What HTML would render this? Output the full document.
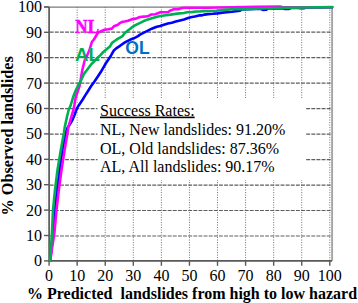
<!DOCTYPE html>
<html><head><meta charset="utf-8"><style>
html,body{margin:0;padding:0;background:#fff;}
svg{display:block;}
.t{font-family:"Liberation Serif",serif;font-size:16px;fill:#000;}
.b{font-family:"Liberation Serif",serif;font-size:16px;font-weight:bold;fill:#000;}
.lb{font-family:"Liberation Serif",serif;font-size:19px;font-weight:bold;}
.ls{font-family:"Liberation Sans",sans-serif;font-size:17.5px;font-weight:bold;}
</style></head><body>
<svg width="358" height="303" viewBox="0 0 358 303">
<rect width="358" height="303" fill="#fff"/>
<line x1="77.17" y1="7" x2="77.17" y2="260.9" stroke="#7c7c82" stroke-width="1" stroke-dasharray="1.1 1.4"/>
<line x1="105.24" y1="7" x2="105.24" y2="260.9" stroke="#7c7c82" stroke-width="1" stroke-dasharray="1.1 1.4"/>
<line x1="133.31" y1="7" x2="133.31" y2="260.9" stroke="#7c7c82" stroke-width="1" stroke-dasharray="1.1 1.4"/>
<line x1="161.38" y1="7" x2="161.38" y2="260.9" stroke="#7c7c82" stroke-width="1" stroke-dasharray="1.1 1.4"/>
<line x1="189.45" y1="7" x2="189.45" y2="260.9" stroke="#7c7c82" stroke-width="1" stroke-dasharray="1.1 1.4"/>
<line x1="217.52" y1="7" x2="217.52" y2="260.9" stroke="#7c7c82" stroke-width="1" stroke-dasharray="1.1 1.4"/>
<line x1="245.59" y1="7" x2="245.59" y2="260.9" stroke="#7c7c82" stroke-width="1" stroke-dasharray="1.1 1.4"/>
<line x1="273.66" y1="7" x2="273.66" y2="260.9" stroke="#7c7c82" stroke-width="1" stroke-dasharray="1.1 1.4"/>
<line x1="301.73" y1="7" x2="301.73" y2="260.9" stroke="#7c7c82" stroke-width="1" stroke-dasharray="1.1 1.4"/>
<line x1="329.80" y1="7" x2="329.80" y2="260.9" stroke="#7c7c82" stroke-width="1" stroke-dasharray="1.1 1.4"/>
<line x1="49.7" y1="236.01" x2="332" y2="236.01" stroke="#5e5e5e" stroke-width="1.2" stroke-dasharray="3.9 1.23"/>
<line x1="49.7" y1="210.52" x2="332" y2="210.52" stroke="#5e5e5e" stroke-width="1.2" stroke-dasharray="3.9 1.23"/>
<line x1="49.7" y1="185.03" x2="332" y2="185.03" stroke="#5e5e5e" stroke-width="1.2" stroke-dasharray="3.9 1.23"/>
<line x1="49.7" y1="159.54" x2="332" y2="159.54" stroke="#5e5e5e" stroke-width="1.2" stroke-dasharray="3.9 1.23"/>
<line x1="49.7" y1="134.05" x2="332" y2="134.05" stroke="#5e5e5e" stroke-width="1.2" stroke-dasharray="3.9 1.23"/>
<line x1="49.7" y1="108.56" x2="332" y2="108.56" stroke="#5e5e5e" stroke-width="1.2" stroke-dasharray="3.9 1.23"/>
<line x1="49.7" y1="83.07" x2="332" y2="83.07" stroke="#5e5e5e" stroke-width="1.2" stroke-dasharray="3.9 1.23"/>
<line x1="49.7" y1="57.58" x2="332" y2="57.58" stroke="#5e5e5e" stroke-width="1.2" stroke-dasharray="3.9 1.23"/>
<line x1="49.7" y1="32.09" x2="332" y2="32.09" stroke="#5e5e5e" stroke-width="1.2" stroke-dasharray="3.9 1.23"/>
<line x1="46.4" y1="7" x2="46.4" y2="260" stroke="#e4e4e4" stroke-width="1" stroke-dasharray="1.2 1.3"/>
<rect x="97.5" y="98" width="207.5" height="82" fill="#fff"/>
<line x1="44" y1="7.1" x2="333" y2="7.1" stroke="#7a7a7a" stroke-width="1.4"/>
<line x1="332.1" y1="7.1" x2="332.1" y2="260.9" stroke="#a4a4a4" stroke-width="1.9"/>
<path d="M49.1,6.9 V260.9 H332" fill="none" stroke="#5a5a5a" stroke-width="1.7"/>
<line x1="44" y1="260.90" x2="49.1" y2="260.90" stroke="#5a5a5a" stroke-width="1.4"/>
<line x1="49.10" y1="260.9" x2="49.10" y2="265.8" stroke="#5a5a5a" stroke-width="1.4"/>
<line x1="44" y1="235.50" x2="49.1" y2="235.50" stroke="#5a5a5a" stroke-width="1.4"/>
<line x1="77.17" y1="260.9" x2="77.17" y2="265.8" stroke="#5a5a5a" stroke-width="1.4"/>
<line x1="44" y1="210.10" x2="49.1" y2="210.10" stroke="#5a5a5a" stroke-width="1.4"/>
<line x1="105.24" y1="260.9" x2="105.24" y2="265.8" stroke="#5a5a5a" stroke-width="1.4"/>
<line x1="44" y1="184.70" x2="49.1" y2="184.70" stroke="#5a5a5a" stroke-width="1.4"/>
<line x1="133.31" y1="260.9" x2="133.31" y2="265.8" stroke="#5a5a5a" stroke-width="1.4"/>
<line x1="44" y1="159.30" x2="49.1" y2="159.30" stroke="#5a5a5a" stroke-width="1.4"/>
<line x1="161.38" y1="260.9" x2="161.38" y2="265.8" stroke="#5a5a5a" stroke-width="1.4"/>
<line x1="44" y1="133.90" x2="49.1" y2="133.90" stroke="#5a5a5a" stroke-width="1.4"/>
<line x1="189.45" y1="260.9" x2="189.45" y2="265.8" stroke="#5a5a5a" stroke-width="1.4"/>
<line x1="44" y1="108.50" x2="49.1" y2="108.50" stroke="#5a5a5a" stroke-width="1.4"/>
<line x1="217.52" y1="260.9" x2="217.52" y2="265.8" stroke="#5a5a5a" stroke-width="1.4"/>
<line x1="44" y1="83.10" x2="49.1" y2="83.10" stroke="#5a5a5a" stroke-width="1.4"/>
<line x1="245.59" y1="260.9" x2="245.59" y2="265.8" stroke="#5a5a5a" stroke-width="1.4"/>
<line x1="44" y1="57.70" x2="49.1" y2="57.70" stroke="#5a5a5a" stroke-width="1.4"/>
<line x1="273.66" y1="260.9" x2="273.66" y2="265.8" stroke="#5a5a5a" stroke-width="1.4"/>
<line x1="44" y1="32.30" x2="49.1" y2="32.30" stroke="#5a5a5a" stroke-width="1.4"/>
<line x1="301.73" y1="260.9" x2="301.73" y2="265.8" stroke="#5a5a5a" stroke-width="1.4"/>
<line x1="44" y1="6.90" x2="49.1" y2="6.90" stroke="#5a5a5a" stroke-width="1.4"/>
<line x1="329.80" y1="260.9" x2="329.80" y2="265.8" stroke="#5a5a5a" stroke-width="1.4"/>
<polyline points="50.3,260.6 51.2,250.0 53.2,232.0 55.0,210.0 57.0,190.0 59.5,170.0 62.4,150.0 65.7,133.0 67.5,128.0 70.0,124.0 72.3,120.3 74.6,114.8 76.3,110.0 77.5,107.4 79.9,103.8 82.7,99.5 85.4,95.1 88.2,90.8 91.0,86.3 94.3,81.8 97.5,77.0 100.6,72.3 103.8,66.8 106.0,63.0 108.6,59.2 111.2,55.2 113.6,50.8 116.2,48.4 118.9,46.6 121.5,44.7 124.1,42.9 126.8,41.3 129.9,39.8 133.8,38.3 138.0,36.1 140.0,34.6 143.9,32.7 147.9,30.7 151.8,28.7 156.0,27.0 160.0,25.9 163.9,24.7 167.9,23.5 171.8,22.7 175.8,21.5 180.0,20.5 184.0,19.5 187.4,18.3 190.7,17.2 194.8,16.5 200.0,15.2 201.4,15.4 204.6,14.6 208.0,14.1 212.8,13.8 217.5,13.4 222.3,12.6 227.0,12.2 232.0,11.8 240.0,10.6 242.0,9.4 256.0,9.0 261.0,9.0 263.0,9.9 266.0,9.8 268.0,8.5 282.0,8.2 285.0,8.9 289.0,8.9 291.0,8.0 297.0,7.8 300.0,8.3 304.0,8.2 306.0,7.6 332.0,7.2" fill="none" stroke="#0000ff" stroke-width="2.6" stroke-linejoin="round" stroke-linecap="round"/>
<polyline points="50.3,260.6 51.8,250.0 54.5,232.0 56.5,210.0 58.8,190.0 61.5,170.0 64.6,150.0 67.5,133.0 68.3,127.4 69.9,121.9 71.5,116.3 73.4,110.0 74.4,105.0 75.1,100.3 76.3,95.5 77.9,90.8 79.5,86.0 80.7,79.8 82.3,70.0 84.8,60.0 87.4,54.8 89.5,50.0 90.7,45.8 91.9,41.8 93.9,39.5 95.9,36.3 97.1,33.9 98.6,32.3 100.6,31.5 103.0,30.3 105.4,29.6 108.0,29.3 111.9,28.6 113.9,26.3 115.9,25.5 117.9,24.7 119.8,23.1 122.2,21.9 124.6,21.5 128.0,20.8 132.0,19.3 135.9,18.6 139.9,17.0 143.8,16.6 146.0,16.5 148.6,15.9 151.3,14.5 155.2,14.3 157.9,13.3 159.9,12.4 164.0,12.3 168.0,12.3 170.6,10.4 173.9,9.3 178.5,9.3 181.2,8.1 184.0,7.7 208.0,7.7 232.0,7.2 256.0,6.8 280.0,6.6 284.0,7.4 331.0,7.2" fill="none" stroke="#ff00ff" stroke-width="2.6" stroke-linejoin="round" stroke-linecap="round"/>
<polyline points="50.3,260.6 50.8,250.0 52.0,232.0 53.0,210.0 55.0,190.0 57.5,170.0 60.8,150.0 63.9,133.0 64.7,127.4 65.9,121.9 67.1,116.3 68.7,110.0 70.8,105.0 72.4,99.5 74.0,94.7 75.9,90.0 77.9,86.0 80.0,82.5 84.0,73.9 86.4,70.7 88.8,67.5 91.1,64.4 93.5,62.0 97.0,58.3 100.7,54.9 103.3,51.9 106.6,49.3 109.9,46.6 112.0,42.9 114.6,41.0 117.3,39.2 119.9,37.6 122.6,36.1 124.6,33.2 127.9,30.6 131.2,27.9 134.5,25.6 138.0,23.9 141.2,22.3 144.5,20.7 148.0,19.4 152.6,18.0 159.2,16.3 164.0,15.5 170.6,14.6 177.2,13.6 184.0,13.0 187.2,12.3 190.3,12.3 193.5,11.9 196.7,11.5 199.8,11.5 203.0,11.1 208.0,11.0 216.0,10.8 224.0,9.9 232.0,9.3 244.0,9.1 256.0,8.7 268.0,8.3 282.0,7.9 304.0,7.5 332.5,7.1" fill="none" stroke="#00b050" stroke-width="2.6" stroke-linejoin="round" stroke-linecap="round"/>
<text x="42" y="266.30" text-anchor="end" class="t">0</text>
<text x="49.10" y="280.5" text-anchor="middle" class="t">0</text>
<text x="42" y="240.90" text-anchor="end" class="t">10</text>
<text x="77.17" y="280.5" text-anchor="middle" class="t">10</text>
<text x="42" y="215.50" text-anchor="end" class="t">20</text>
<text x="105.24" y="280.5" text-anchor="middle" class="t">20</text>
<text x="42" y="190.10" text-anchor="end" class="t">30</text>
<text x="133.31" y="280.5" text-anchor="middle" class="t">30</text>
<text x="42" y="164.70" text-anchor="end" class="t">40</text>
<text x="161.38" y="280.5" text-anchor="middle" class="t">40</text>
<text x="42" y="139.30" text-anchor="end" class="t">50</text>
<text x="189.45" y="280.5" text-anchor="middle" class="t">50</text>
<text x="42" y="113.90" text-anchor="end" class="t">60</text>
<text x="217.52" y="280.5" text-anchor="middle" class="t">60</text>
<text x="42" y="88.50" text-anchor="end" class="t">70</text>
<text x="245.59" y="280.5" text-anchor="middle" class="t">70</text>
<text x="42" y="63.10" text-anchor="end" class="t">80</text>
<text x="273.66" y="280.5" text-anchor="middle" class="t">80</text>
<text x="42" y="37.70" text-anchor="end" class="t">90</text>
<text x="301.73" y="280.5" text-anchor="middle" class="t">90</text>
<text x="42" y="12.30" text-anchor="end" class="t">100</text>
<text x="329.80" y="280.5" text-anchor="middle" class="t">100</text>
<text x="100" y="115.6" class="t" text-decoration="underline">Success Rates:</text>
<text x="100" y="134.8" class="t">NL, New landslides: 91.20%</text>
<text x="100" y="153.6" class="t">OL, Old landslides: 87.36%</text>
<text x="100" y="172.3" class="t">AL, All landslides: 90.17%</text>
<text x="0" y="0" transform="translate(75.3,32.6) scale(0.9,1)" class="lb" fill="#ff00ff" stroke="#ff00ff" stroke-width="0.5">NL</text>
<text x="0" y="0" transform="translate(75.1,60.8)" class="ls" style="font-size:18.6px" fill="#00b050">AL</text>
<text x="0" y="0" transform="translate(125.3,54.2)" class="ls" fill="#0070c0">OL</text>
<text x="27" y="298.6" class="b">% Predicted&#160; landslides from high to low hazard</text>
<text x="0" y="0" transform="translate(12.9,215.4) rotate(-90)" class="b" style="font-size:16.2px">% Observed landslides</text>
</svg>
</body></html>
